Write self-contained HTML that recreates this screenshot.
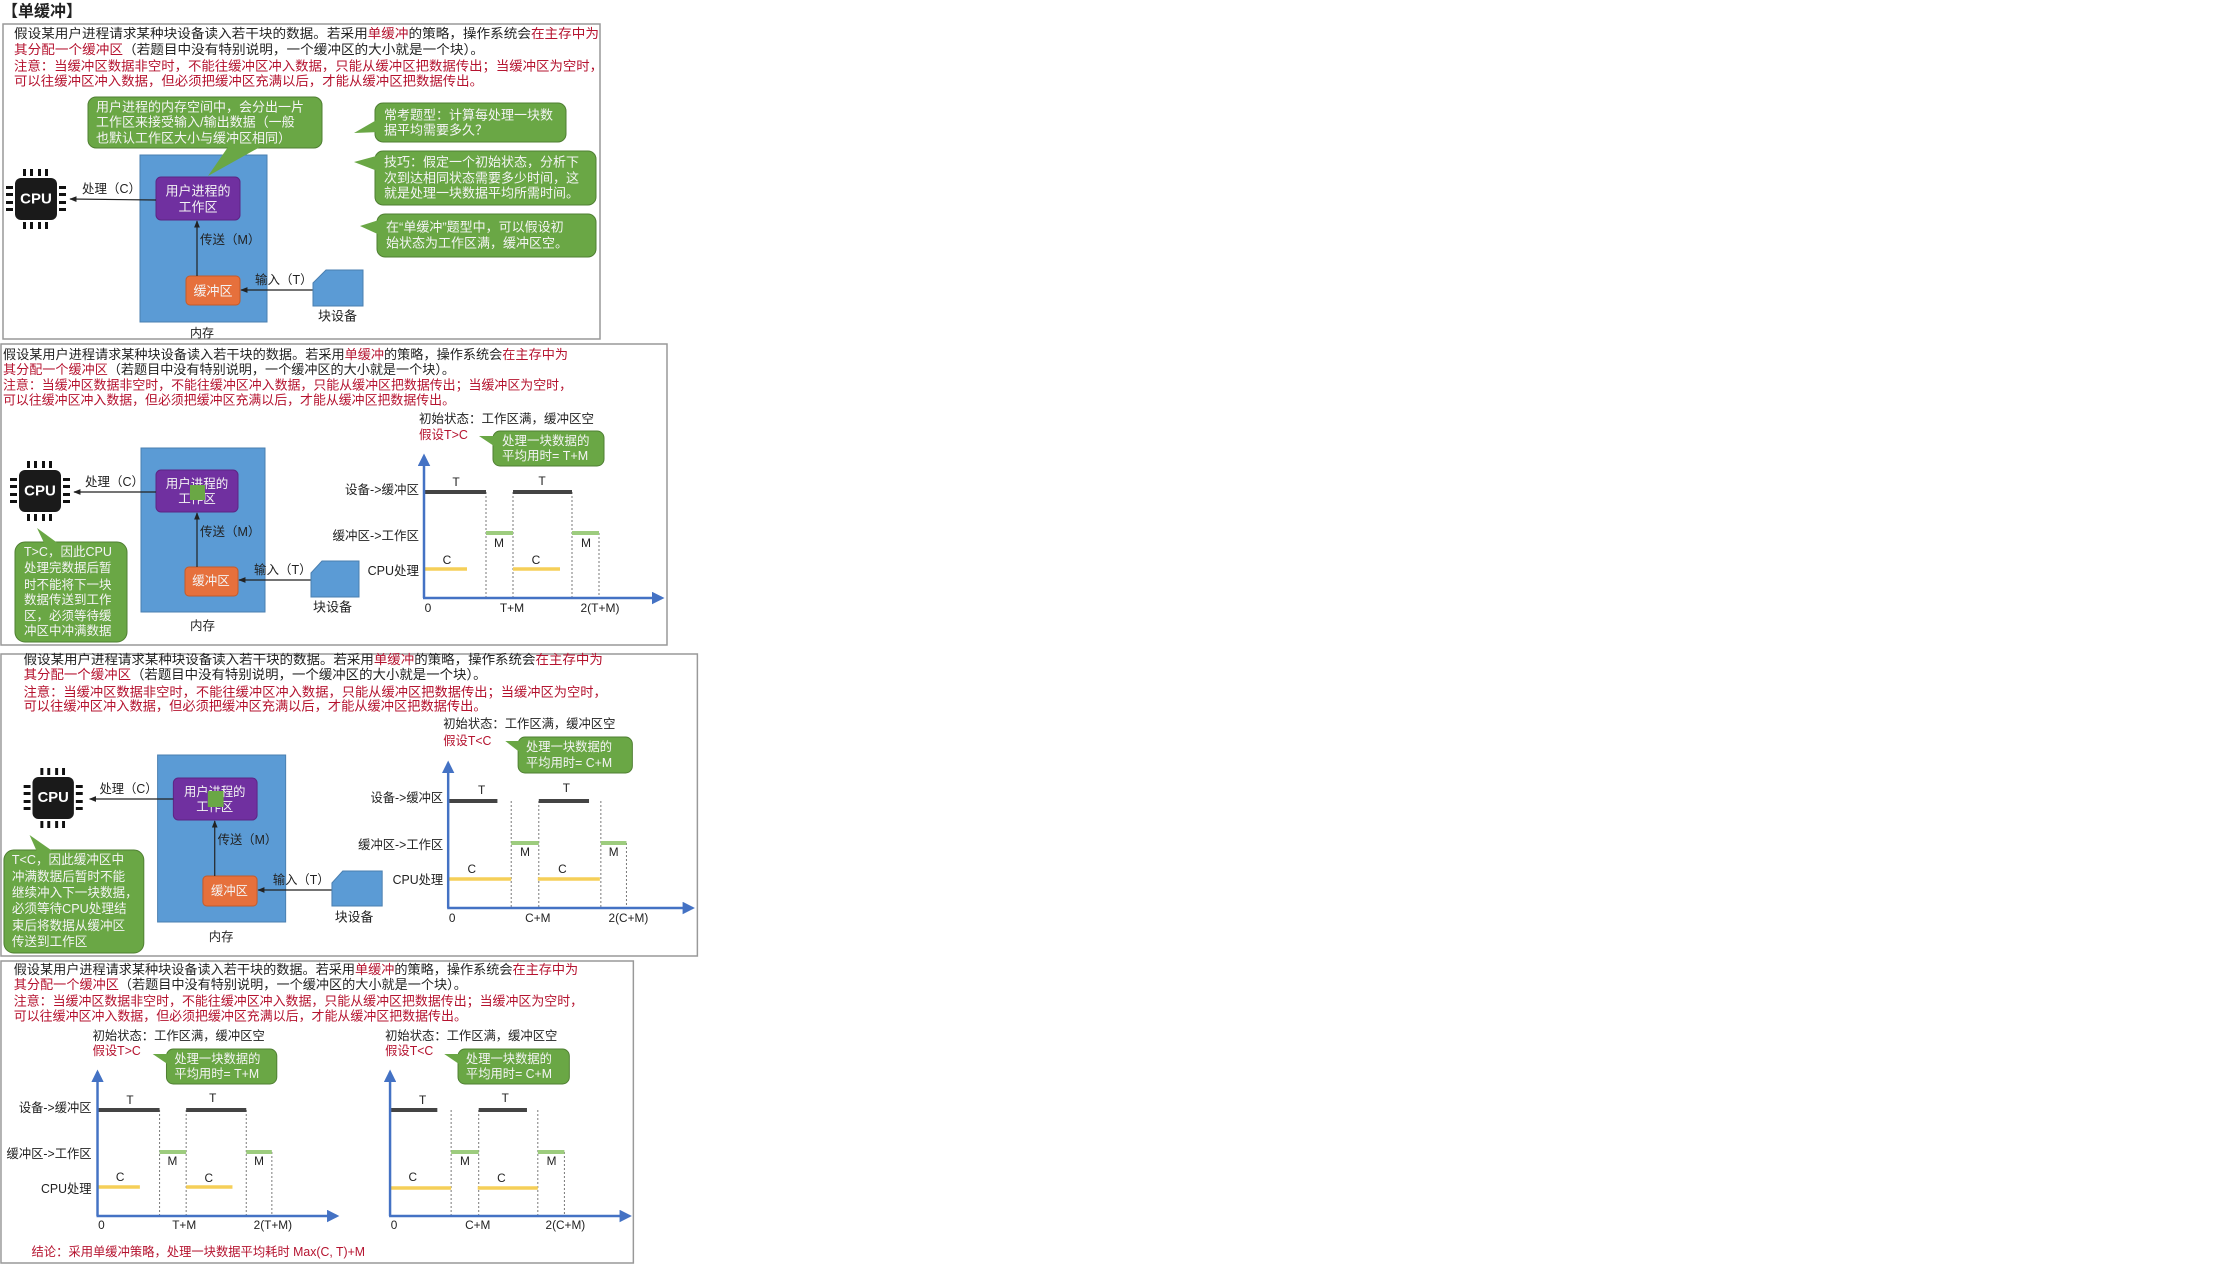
<!DOCTYPE html>
<html><head><meta charset="utf-8">
<style>
html,body{margin:0;padding:0;background:#fff;}
svg{display:block;}
text{font-family:"Liberation Sans","Noto Sans CJK SC",sans-serif;dominant-baseline:central;}
.b{fill:#222;}
.r{fill:#b5132f;}
.w{fill:#f4f4f4;}
.mem{fill:#5b9bd5;stroke:#4a7fb0;stroke-width:1;}
.pur{fill:#7030a0;stroke:#5c2585;}
.ora{fill:#e6703c;stroke:#c55a28;}
.grn{fill:#6aa745;stroke:#4f7f32;stroke-width:1;}
.ax{stroke:#4472c4;stroke-width:2.5;fill:none;}
.tb{stroke:#444;stroke-width:4;}
.mb{stroke:#9dcc7e;stroke-width:4;}
.cb{stroke:#f5cf58;stroke-width:3.5;}
.dash{stroke:#777;stroke-width:1;stroke-dasharray:2,2;}
.ln{stroke:#222;stroke-width:1.2;fill:none;}
</style></head>
<body>
<svg width="2219" height="1269" viewBox="0 0 2219 1269" xmlns="http://www.w3.org/2000/svg">
<defs>
<marker id="ar" viewBox="0 0 10 10" refX="9" refY="5" markerWidth="6" markerHeight="6" orient="auto"><path d="M0,1 L10,5 L0,9 z" fill="#222"/></marker>
<marker id="ab" viewBox="0 0 10 10" refX="8" refY="5" markerWidth="5" markerHeight="5" orient="auto"><path d="M0,0 L10,5 L0,10 z" fill="#4472c4"/></marker>
<g id="chip">
<rect x="-21" y="-21" width="42" height="42" rx="6" fill="#1a1a1a"/>
<rect x="-13" y="-30" width="3" height="7" fill="#111"/><rect x="-6" y="-30" width="3" height="7" fill="#111"/><rect x="2" y="-30" width="3" height="7" fill="#111"/><rect x="9" y="-30" width="3" height="7" fill="#111"/>
<rect x="-13" y="23" width="3" height="7" fill="#111"/><rect x="-6" y="23" width="3" height="7" fill="#111"/><rect x="2" y="23" width="3" height="7" fill="#111"/><rect x="9" y="23" width="3" height="7" fill="#111"/>
<rect x="-30" y="-13" width="7" height="3" fill="#111"/><rect x="-30" y="-6" width="7" height="3" fill="#111"/><rect x="-30" y="2" width="7" height="3" fill="#111"/><rect x="-30" y="9" width="7" height="3" fill="#111"/>
<rect x="23" y="-13" width="7" height="3" fill="#111"/><rect x="23" y="-6" width="7" height="3" fill="#111"/><rect x="23" y="2" width="7" height="3" fill="#111"/><rect x="23" y="9" width="7" height="3" fill="#111"/>
<text x="0" y="0" text-anchor="middle" font-size="15" font-weight="bold" fill="#fff">CPU</text>
</g>
</defs>

<!-- Title -->
<text x="2" y="12" font-size="16" font-weight="bold" class="b">【单缓冲】</text>

<!-- ================= PANEL 1 ================= -->
<rect x="3" y="24" width="597" height="315" fill="none" stroke="#999" stroke-width="1.5"/>
<g font-size="13">
<text x="14" y="33" textLength="585" lengthAdjust="spacingAndGlyphs"><tspan class="b">假设某用户进程请求某种块设备读入若干块的数据。若采用</tspan><tspan class="r">单缓冲</tspan><tspan class="b">的策略，操作系统会</tspan><tspan class="r">在主存中为</tspan></text>
<text x="14" y="49" textLength="470" lengthAdjust="spacingAndGlyphs"><tspan class="r">其分配一个缓冲区</tspan><tspan class="b">（若题目中没有特别说明，一个缓冲区的大小就是一个块）。</tspan></text>
<text x="14" y="66" class="r" textLength="589" lengthAdjust="spacingAndGlyphs">注意：当缓冲区数据非空时，不能往缓冲区冲入数据，只能从缓冲区把数据传出；当缓冲区为空时，</text>
<text x="14" y="81" class="r" textLength="469" lengthAdjust="spacingAndGlyphs">可以往缓冲区冲入数据，但必须把缓冲区充满以后，才能从缓冲区把数据传出。</text>
</g>
<rect class="mem" x="140" y="155" width="127" height="167"/>
<rect class="grn" x="88" y="97" width="234" height="51" rx="8"/>
<polygon points="208,176 228,147 260,147" fill="#6aa745"/>
<g font-size="13" class="w"><text x="96" y="107">用户进程的内存空间中，会分出一片</text><text x="96" y="122">工作区来接受输入/输出数据（一般</text><text x="96" y="138">也默认工作区大小与缓冲区相同）</text></g>
<rect class="pur" x="156" y="177" width="84" height="43" rx="5"/>
<text x="198" y="191" text-anchor="middle" font-size="13" class="w">用户进程的</text>
<text x="198" y="207" text-anchor="middle" font-size="13" class="w">工作区</text>
<rect class="ora" x="186" y="276" width="54" height="29" rx="4"/>
<text x="213" y="291" text-anchor="middle" font-size="13" class="w">缓冲区</text>
<use href="#chip" x="36" y="199"/>
<line class="ln" x1="156" y1="200" x2="70" y2="199" marker-end="url(#ar)"/>
<text x="82" y="189" font-size="12.5" class="b">处理（C）</text>
<line class="ln" x1="197" y1="276" x2="197" y2="221" marker-end="url(#ar)"/>
<text x="200" y="240" font-size="12.5" class="b">传送（M）</text>
<line class="ln" x1="324" y1="290" x2="241" y2="290" marker-end="url(#ar)"/>
<text x="255" y="280" font-size="12.5" class="b">输入（T）</text>
<polygon class="mem" points="326,270 363,270 363,306 313,306 313,283"/>
<text x="318" y="316" font-size="13" class="b">块设备</text>
<text x="190" y="333" font-size="12" class="b">内存</text>
<rect class="grn" x="375" y="103" width="191" height="39" rx="8"/>
<polygon points="354,133 380,118 380,132" fill="#6aa745"/>
<g font-size="13" class="w"><text x="384" y="115">常考题型：计算每处理一块数</text><text x="384" y="130">据平均需要多久？</text></g>
<rect class="grn" x="375" y="151" width="221" height="54" rx="8"/>
<polygon points="354,162 380,155 380,172" fill="#6aa745"/>
<g font-size="13" class="w"><text x="384" y="162">技巧：假定一个初始状态，分析下</text><text x="384" y="178">次到达相同状态需要多少时间，这</text><text x="384" y="193">就是处理一块数据平均所需时间。</text></g>
<rect class="grn" x="377" y="214" width="219" height="43" rx="8"/>
<polygon points="360,226 382,219 382,236" fill="#6aa745"/>
<g font-size="13" class="w"><text x="386" y="227">在“单缓冲”题型中，可以假设初</text><text x="386" y="243">始状态为工作区满，缓冲区空。</text></g>

<!-- ================= PANEL 2 ================= -->
<rect x="1" y="344" width="666" height="301" fill="none" stroke="#999" stroke-width="1.5"/>
<g font-size="12.8">
<text x="3" y="354" textLength="565" lengthAdjust="spacingAndGlyphs"><tspan class="b">假设某用户进程请求某种块设备读入若干块的数据。若采用</tspan><tspan class="r">单缓冲</tspan><tspan class="b">的策略，操作系统会</tspan><tspan class="r">在主存中为</tspan></text>
<text x="3" y="369" textLength="452" lengthAdjust="spacingAndGlyphs"><tspan class="r">其分配一个缓冲区</tspan><tspan class="b">（若题目中没有特别说明，一个缓冲区的大小就是一个块）。</tspan></text>
<text x="3" y="385" class="r" textLength="569" lengthAdjust="spacingAndGlyphs">注意：当缓冲区数据非空时，不能往缓冲区冲入数据，只能从缓冲区把数据传出；当缓冲区为空时，</text>
<text x="3" y="400" class="r" textLength="452" lengthAdjust="spacingAndGlyphs">可以往缓冲区冲入数据，但必须把缓冲区充满以后，才能从缓冲区把数据传出。</text>
</g>
<rect class="mem" x="141" y="448" width="124" height="164"/>
<rect class="pur" x="156" y="470" width="82" height="42" rx="5"/>
<text x="197" y="484" text-anchor="middle" font-size="12.5" class="w">用户进程的</text>
<text x="197" y="499" text-anchor="middle" font-size="12.5" class="w">工作区</text>
<rect x="190" y="485" width="15" height="15" fill="#6aa745"/>
<rect class="ora" x="185" y="567" width="53" height="29" rx="4"/>
<text x="211" y="581" text-anchor="middle" font-size="12.5" class="w">缓冲区</text>
<use href="#chip" x="40" y="491"/>
<line class="ln" x1="156" y1="492" x2="74" y2="492" marker-end="url(#ar)"/>
<text x="85" y="482" font-size="12.5" class="b">处理（C）</text>
<line class="ln" x1="197" y1="567" x2="197" y2="513" marker-end="url(#ar)"/>
<text x="200" y="532" font-size="12.5" class="b">传送（M）</text>
<line class="ln" x1="322" y1="580" x2="239" y2="580" marker-end="url(#ar)"/>
<text x="254" y="570" font-size="12.5" class="b">输入（T）</text>
<polygon class="mem" points="322,561 359,561 359,597 311,597 311,573"/>
<text x="313" y="607" font-size="13" class="b">块设备</text>
<text x="190" y="626" font-size="12.5" class="b">内存</text>
<rect class="grn" x="15" y="542" width="112" height="100" rx="10"/>
<polygon points="37,528 46,547 63,547" fill="#6aa745"/>
<g font-size="12.5" class="w"><text x="24" y="552">T&gt;C，因此CPU</text><text x="24" y="568">处理完数据后暂</text><text x="24" y="585">时不能将下一块</text><text x="24" y="600">数据传送到工作</text><text x="24" y="616">区，必须等待缓</text><text x="24" y="631">冲区中冲满数据</text></g>
<text x="419" y="419" font-size="12.5" class="b">初始状态：工作区满，缓冲区空</text>
<text x="419" y="435" font-size="12.5" class="r">假设T&gt;C</text>
<rect class="grn" x="493" y="431" width="111" height="35" rx="7"/>
<polygon points="479,436 497,436 497,448" fill="#6aa745"/>
<g font-size="12.5" class="w"><text x="502" y="441">处理一块数据的</text><text x="502" y="456">平均用时= T+M</text></g>
<line class="dash" x1="486" y1="492" x2="486" y2="598"/><line class="dash" x1="513" y1="492" x2="513" y2="598"/><line class="dash" x1="572" y1="492" x2="572" y2="598"/><line class="dash" x1="599" y1="533" x2="599" y2="598"/>
<line class="tb" x1="425" y1="492" x2="486" y2="492"/><line class="tb" x1="513" y1="492" x2="572" y2="492"/>
<line class="mb" x1="486" y1="533" x2="513" y2="533"/><line class="mb" x1="572" y1="533" x2="599" y2="533"/>
<line class="cb" x1="425" y1="569" x2="467" y2="569"/><line class="cb" x1="513" y1="569" x2="560" y2="569"/>
<line class="ax" x1="424" y1="598" x2="424" y2="456" marker-end="url(#ab)"/>
<line class="ax" x1="423" y1="598" x2="662" y2="598" marker-end="url(#ab)"/>
<g font-size="12" class="b" text-anchor="middle"><text x="456" y="482">T</text><text x="542" y="481">T</text><text x="499" y="543">M</text><text x="586" y="543">M</text><text x="447" y="560">C</text><text x="536" y="560">C</text>
<text x="428" y="608">0</text><text x="512" y="608">T+M</text><text x="600" y="608">2(T+M)</text></g>
<g font-size="12.5" class="b" text-anchor="end"><text x="419" y="490">设备-&gt;缓冲区</text><text x="419" y="536">缓冲区-&gt;工作区</text><text x="419" y="571">CPU处理</text></g>

<!-- ================= PANEL 3 ================= -->
<g transform="scale(0.985,1)">
<rect x="1" y="654" width="707" height="302" fill="none" stroke="#999" stroke-width="1.5"/>
<g font-size="13.3">
<text x="24" y="659" textLength="588" lengthAdjust="spacingAndGlyphs"><tspan class="b">假设某用户进程请求某种块设备读入若干块的数据。若采用</tspan><tspan class="r">单缓冲</tspan><tspan class="b">的策略，操作系统会</tspan><tspan class="r">在主存中为</tspan></text>
<text x="24" y="674" textLength="470" lengthAdjust="spacingAndGlyphs"><tspan class="r">其分配一个缓冲区</tspan><tspan class="b">（若题目中没有特别说明，一个缓冲区的大小就是一个块）。</tspan></text>
<text x="24" y="692" class="r" textLength="592" lengthAdjust="spacingAndGlyphs">注意：当缓冲区数据非空时，不能往缓冲区冲入数据，只能从缓冲区把数据传出；当缓冲区为空时，</text>
<text x="24" y="706" class="r" textLength="470" lengthAdjust="spacingAndGlyphs">可以往缓冲区冲入数据，但必须把缓冲区充满以后，才能从缓冲区把数据传出。</text>
</g>
<rect class="mem" x="160" y="755" width="130" height="167"/>
<rect class="pur" x="176" y="778" width="85" height="42" rx="5"/>
<text x="218" y="792" text-anchor="middle" font-size="12.5" class="w">用户进程的</text>
<text x="218" y="807" text-anchor="middle" font-size="12.5" class="w">工作区</text>
<rect x="211" y="791" width="16" height="16" fill="#6aa745"/>
<rect class="ora" x="206" y="876" width="55" height="30" rx="4"/>
<text x="233" y="891" text-anchor="middle" font-size="12.5" class="w">缓冲区</text>
<use href="#chip" x="54" y="798"/>
<line class="ln" x1="176" y1="799" x2="91" y2="799" marker-end="url(#ar)"/>
<text x="101" y="789" font-size="12.5" class="b">处理（C）</text>
<line class="ln" x1="218" y1="876" x2="218" y2="821" marker-end="url(#ar)"/>
<text x="221" y="840" font-size="12.5" class="b">传送（M）</text>
<line class="ln" x1="348" y1="890" x2="262" y2="890" marker-end="url(#ar)"/>
<text x="277" y="880" font-size="12.5" class="b">输入（T）</text>
<polygon class="mem" points="348,871 388,871 388,906 337,906 337,883"/>
<text x="340" y="917" font-size="13" class="b">块设备</text>
<text x="212" y="937" font-size="12.5" class="b">内存</text>
<rect class="grn" x="4" y="850" width="142" height="103" rx="10"/>
<polygon points="30,835 39,855 59,855" fill="#6aa745"/>
<g font-size="12.8" class="w"><text x="12" y="860">T&lt;C，因此缓冲区中</text><text x="12" y="877">冲满数据后暂时不能</text><text x="12" y="893">继续冲入下一块数据，</text><text x="12" y="909">必须等待CPU处理结</text><text x="12" y="926">束后将数据从缓冲区</text><text x="12" y="942">传送到工作区</text></g>
<text x="450" y="724" font-size="12.5" class="b">初始状态：工作区满，缓冲区空</text>
<text x="450" y="741" font-size="12.5" class="r">假设T&lt;C</text>
<rect class="grn" x="526" y="737" width="116" height="36" rx="7"/>
<polygon points="513,741 530,741 530,754" fill="#6aa745"/>
<g font-size="12.5" class="w"><text x="534" y="747">处理一块数据的</text><text x="534" y="763">平均用时= C+M</text></g>
<line class="dash" x1="519" y1="801" x2="519" y2="908"/><line class="dash" x1="547" y1="801" x2="547" y2="908"/><line class="dash" x1="610" y1="801" x2="610" y2="908"/><line class="dash" x1="636" y1="843" x2="636" y2="908"/>
<line class="tb" x1="456" y1="801" x2="505" y2="801"/><line class="tb" x1="547" y1="801" x2="598" y2="801"/>
<line class="mb" x1="519" y1="843" x2="547" y2="843"/><line class="mb" x1="610" y1="843" x2="636" y2="843"/>
<line class="cb" x1="456" y1="879" x2="519" y2="879" stroke-width="5"/><line class="cb" x1="546" y1="879" x2="609" y2="879" stroke-width="5"/>
<line class="ax" x1="455" y1="908" x2="455" y2="763" marker-end="url(#ab)"/>
<line class="ax" x1="454" y1="908" x2="703" y2="908" marker-end="url(#ab)"/>
<g font-size="12" class="b" text-anchor="middle"><text x="489" y="790">T</text><text x="575" y="788">T</text><text x="533" y="852">M</text><text x="623" y="852">M</text><text x="479" y="869">C</text><text x="571" y="869">C</text>
<text x="459" y="918">0</text><text x="546" y="918">C+M</text><text x="638" y="918">2(C+M)</text></g>
<g font-size="12.5" class="b" text-anchor="end"><text x="450" y="798">设备-&gt;缓冲区</text><text x="450" y="845">缓冲区-&gt;工作区</text><text x="450" y="880">CPU处理</text></g>
</g>

<!-- ================= PANEL 4 ================= -->
<g transform="scale(0.985,1)">
<rect x="1" y="961" width="642" height="302" fill="none" stroke="#999" stroke-width="1.5"/>
<g font-size="13">
<text x="14" y="969" textLength="573" lengthAdjust="spacingAndGlyphs"><tspan class="b">假设某用户进程请求某种块设备读入若干块的数据。若采用</tspan><tspan class="r">单缓冲</tspan><tspan class="b">的策略，操作系统会</tspan><tspan class="r">在主存中为</tspan></text>
<text x="14" y="984" textLength="460" lengthAdjust="spacingAndGlyphs"><tspan class="r">其分配一个缓冲区</tspan><tspan class="b">（若题目中没有特别说明，一个缓冲区的大小就是一个块）。</tspan></text>
<text x="14" y="1001" class="r" textLength="578" lengthAdjust="spacingAndGlyphs">注意：当缓冲区数据非空时，不能往缓冲区冲入数据，只能从缓冲区把数据传出；当缓冲区为空时，</text>
<text x="14" y="1016" class="r" textLength="460" lengthAdjust="spacingAndGlyphs">可以往缓冲区冲入数据，但必须把缓冲区充满以后，才能从缓冲区把数据传出。</text>
</g>
<text x="94" y="1036" font-size="12.5" class="b">初始状态：工作区满，缓冲区空</text>
<text x="94" y="1051" font-size="12.5" class="r">假设T&gt;C</text>
<rect class="grn" x="169" y="1049" width="112" height="35" rx="7"/>
<polygon points="155,1054 173,1054 173,1066" fill="#6aa745"/>
<g font-size="12.5" class="w"><text x="177" y="1059">处理一块数据的</text><text x="177" y="1074">平均用时= T+M</text></g>
<line class="dash" x1="162" y1="1110" x2="162" y2="1216"/><line class="dash" x1="189" y1="1110" x2="189" y2="1216"/><line class="dash" x1="250" y1="1110" x2="250" y2="1216"/><line class="dash" x1="276" y1="1152" x2="276" y2="1216"/>
<line class="tb" x1="100" y1="1110" x2="162" y2="1110"/><line class="tb" x1="189" y1="1110" x2="250" y2="1110"/>
<line class="mb" x1="162" y1="1152" x2="189" y2="1152"/><line class="mb" x1="250" y1="1152" x2="276" y2="1152"/>
<line class="cb" x1="100" y1="1187" x2="142" y2="1187"/><line class="cb" x1="189" y1="1187" x2="236" y2="1187"/>
<line class="ax" x1="99" y1="1216" x2="99" y2="1072" marker-end="url(#ab)"/>
<line class="ax" x1="98" y1="1216" x2="342" y2="1216" marker-end="url(#ab)"/>
<g font-size="12" class="b" text-anchor="middle"><text x="132" y="1100">T</text><text x="216" y="1098">T</text><text x="175" y="1161">M</text><text x="263" y="1161">M</text><text x="122" y="1177">C</text><text x="212" y="1178">C</text>
<text x="103" y="1225">0</text><text x="187" y="1225">T+M</text><text x="277" y="1225">2(T+M)</text></g>
<g font-size="12.5" class="b" text-anchor="end"><text x="93" y="1108">设备-&gt;缓冲区</text><text x="93" y="1154">缓冲区-&gt;工作区</text><text x="93" y="1189">CPU处理</text></g>
<text x="391" y="1036" font-size="12.5" class="b">初始状态：工作区满，缓冲区空</text>
<text x="391" y="1051" font-size="12.5" class="r">假设T&lt;C</text>
<rect class="grn" x="465" y="1049" width="113" height="35" rx="7"/>
<polygon points="451,1054 469,1054 469,1066" fill="#6aa745"/>
<g font-size="12.5" class="w"><text x="473" y="1059">处理一块数据的</text><text x="473" y="1074">平均用时= C+M</text></g>
<line class="dash" x1="458" y1="1110" x2="458" y2="1216"/><line class="dash" x1="486" y1="1110" x2="486" y2="1216"/><line class="dash" x1="546" y1="1110" x2="546" y2="1216"/><line class="dash" x1="573" y1="1152" x2="573" y2="1216"/>
<line class="tb" x1="397" y1="1110" x2="444" y2="1110"/><line class="tb" x1="486" y1="1110" x2="535" y2="1110"/>
<line class="mb" x1="458" y1="1152" x2="486" y2="1152"/><line class="mb" x1="546" y1="1152" x2="573" y2="1152"/>
<line class="cb" x1="397" y1="1188" x2="458" y2="1188" stroke-width="5"/><line class="cb" x1="485" y1="1188" x2="546" y2="1188" stroke-width="6"/>
<line class="ax" x1="396" y1="1216" x2="396" y2="1072" marker-end="url(#ab)"/>
<line class="ax" x1="395" y1="1216" x2="639" y2="1216" marker-end="url(#ab)"/>
<g font-size="12" class="b" text-anchor="middle"><text x="429" y="1100">T</text><text x="513" y="1098">T</text><text x="472" y="1161">M</text><text x="560" y="1161">M</text><text x="419" y="1177">C</text><text x="509" y="1178">C</text>
<text x="400" y="1225">0</text><text x="485" y="1225">C+M</text><text x="574" y="1225">2(C+M)</text></g>
<text x="32" y="1252" font-size="12.5" class="r">结论：采用单缓冲策略，处理一块数据平均耗时 Max(C, T)+M</text>
</g>
</svg>
</body></html>
